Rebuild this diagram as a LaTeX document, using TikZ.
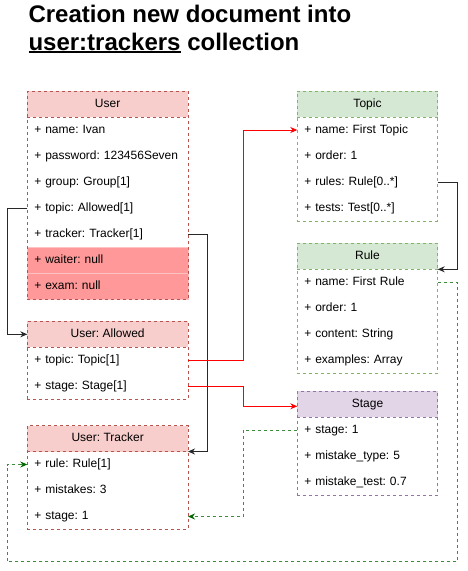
\documentclass[tikz,border=0pt]{standalone}
\usepackage{fontspec}
\setmainfont{Liberation Sans}
\usetikzlibrary{positioning,fit,arrows.meta}
\definecolor{myredfill}{RGB}{248,206,204}
\definecolor{myredline}{RGB}{184,84,80}
\definecolor{mynull}{RGB}{255,153,153}
\definecolor{mygreenfill}{RGB}{213,232,212}
\definecolor{mygreenline}{RGB}{130,179,102}
\definecolor{mypurplefill}{RGB}{225,213,231}
\definecolor{mypurpleline}{RGB}{150,115,166}
\definecolor{mylinkgreen}{RGB}{60,140,60}
\definecolor{mydarkgreen}{RGB}{0,102,0}
\definecolor{mygrey}{RGB}{40,40,40}
\frenchspacing

\begin{document}
\begin{tikzpicture}[x=1pt,y=-1pt,outer sep=0pt,
	titletext/.style={
		anchor=base west,
		inner sep=0pt,
		font={\fontsize{24}{28}\selectfont\bfseries}},
	hdr/.style={
		anchor=north west,
		minimum width=#1,
		minimum height=26pt,
		inner sep=0pt,
		font={\fontsize{12}{14}\selectfont},
		text height=9pt,
		text depth=3pt},
	hdr/.default=160.7pt,
	row/.style={
		minimum height=26pt,
		inner xsep=7pt,
		inner ysep=0pt,
		text width=#1,
		align=left,
		font={\fontsize{12}{14}\selectfont},
		text height=9pt,
		text depth=3pt},
	row/.default=146.7pt,
	nullrow/.style={row,fill=mynull,draw=mynull!60!white,line width=0.6pt},
	box/.style={draw=#1,dash pattern=on 3pt off 3pt,line width=0.8pt,inner sep=0pt},
	link/.style={draw=mygrey,line width=0.9pt,-{Stealth[length=7pt,width=6pt]}},
	redlink/.style={link,draw=red},
	greenlink/.style={link,draw=mylinkgreen,dash pattern=on 3pt off 3pt,
		-{Stealth[length=7pt,width=6pt,color=mydarkgreen,fill=mydarkgreen]}},
	]
	\useasboundingbox (0,0) rectangle (467,571);
	% title
	\node[titletext] (title1) at (28.5,22.3) {Creation new document into};
	\node[titletext] (title2a) at (28.5,50) {user:trackers};
	\node[titletext] (title2b) at ([xshift=6.7pt]title2a.base east) {collection};
	\draw[line width=1.7pt] ([yshift=-1.8pt]title2a.base west) -- ([yshift=-1.8pt]title2a.base east);
	
	% User
	\node[hdr,fill=myredfill] (User) at (27.3,91) {User};
	\node[row,below=0pt of User] (Uname) {+ name: Ivan};
	\node[row,below=0pt of Uname] (Upass) {+ password: 123456Seven};
	\node[row,below=0pt of Upass] (Ugroup) {+ group: Group[1]};
	\node[row,below=0pt of Ugroup] (Utopic) {+ topic: Allowed[1]};
	\node[row,below=0pt of Utopic] (Utracker) {+ tracker: Tracker[1]};
	\node[nullrow,below=0pt of Utracker] (Uwaiter) {+ waiter: null};
	\node[nullrow,below=0pt of Uwaiter] (Uexam) {+ exam: null};
	\draw[box=myredline] (User.south west) -- (User.south east);
	\node[box=myredline,fit=(User)(Uexam)] (Ubox) {};
	
	% User: Allowed
	\node[hdr,fill=myredfill] (Allowed) at (27.3,321.3) {User: Allowed};
	\node[row,below=0pt of Allowed] (Atopic) {+ topic: Topic[1]};
	\node[row,below=0pt of Atopic] (Astage) {+ stage: Stage[1]};
	\draw[box=myredline] (Allowed.south west) -- (Allowed.south east);
	\node[box=myredline,fit=(Allowed)(Astage)] (Abox) {};
	
	% User: Tracker
	\node[hdr,fill=myredfill] (Tracker) at (27.3,425.5) {User: Tracker};
	\node[row,below=0pt of Tracker] (Krule) {+ rule: Rule[1]};
	\node[row,below=0pt of Krule] (Kmist) {+ mistakes: 3};
	\node[row,below=0pt of Kmist] (Kstage) {+ stage: 1};
	\draw[box=myredline] (Tracker.south west) -- (Tracker.south east);
	\node[box=myredline,fit=(Tracker)(Kstage)] (Kbox) {};
	
	% Topic
	\node[hdr=140.4pt,fill=mygreenfill] (Topic) at (297.3,91) {Topic};
	\node[row=126.4pt,below=0pt of Topic] (Tname) {+ name: First Topic};
	\node[row=126.4pt,below=0pt of Tname] (Torder) {+ order: 1};
	\node[row=126.4pt,below=0pt of Torder] (Trules) {+ rules: Rule[0..*]};
	\node[row=126.4pt,below=0pt of Trules] (Ttests) {+ tests: Test[0..*]};
	\draw[box=mygreenline] (Topic.south west) -- (Topic.south east);
	\node[box=mygreenline,fit=(Topic)(Ttests)] (Tbox) {};
	
	% Rule
	\node[hdr=140.4pt,fill=mygreenfill] (Rule) at (297.3,243.3) {Rule};
	\node[row=126.4pt,below=0pt of Rule] (Rname) {+ name: First Rule};
	\node[row=126.4pt,below=0pt of Rname] (Rorder) {+ order: 1};
	\node[row=126.4pt,below=0pt of Rorder] (Rcontent) {+ content: String};
	\node[row=126.4pt,below=0pt of Rcontent] (Rexamples) {+ examples: Array};
	\draw[box=mygreenline] (Rule.south west) -- (Rule.south east);
	\node[box=mygreenline,fit=(Rule)(Rexamples)] (Rbox) {};
	
	% Stage
	\node[hdr=140.4pt,fill=mypurplefill] (Stage) at (297.3,391.3) {Stage};
	\node[row=126.4pt,below=0pt of Stage] (Sstage) {+ stage: 1};
	\node[row=126.4pt,below=0pt of Sstage] (Stype) {+ mistake\_type: 5};
	\node[row=126.4pt,below=0pt of Stype] (Stest) {+ mistake\_test: 0.7};
	\draw[box=mypurpleline] (Stage.south west) -- (Stage.south east);
	\node[box=mypurpleline,fit=(Stage)(Stest)] (Sbox) {};
	
	% links
	\coordinate (loop) at (7,561.7);
	\draw[link] (Utopic.west) -- ++(-20.3,0) |- (Allowed.west);
	\draw[link] (Utracker.east) -- ++(19.3,0) |- (Tracker.south east);
	\draw[redlink] (Atopic.east) -- ++(55,0) |- (Tname.west);
	\draw[redlink] (Astage.east) -- ++(55,0) |- ([yshift=-2pt]Stage.west);
	\draw[link] (Trules.east) -- ++(20,0) |- (Rule.south east);
	\draw[greenlink] (Rname.east) -- ++(19.6,0) |- (loop) |- (Krule.west);
	\draw[greenlink] (Sstage.west) -- ++(-54.3,0) |- (Kstage.east);
\end{tikzpicture}
\end{document}
